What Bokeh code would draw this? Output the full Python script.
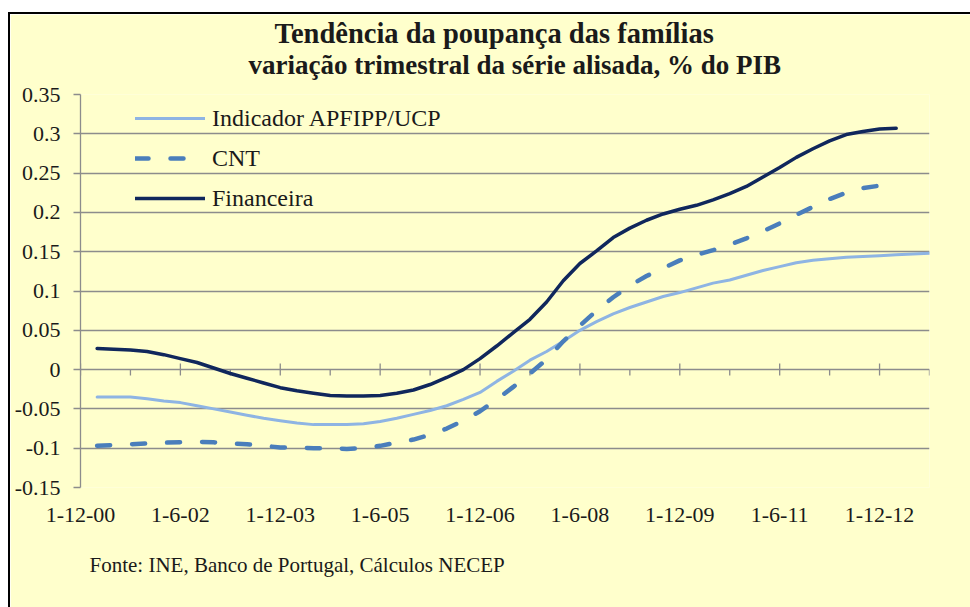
from bokeh.plotting import figure
from bokeh.models import Title, Legend, LegendItem, FixedTicker, Range1d, Spacer
from bokeh.layouts import row, column
from bokeh.embed import file_html
from bokeh.resources import INLINE

# quarter index: 0 = 1-12-00 (Dec 2000), one step per quarter
quarters_long = list(range(1, 52))
quarters = list(range(1, 50))

apfipp = [-0.035, -0.035, -0.035, -0.037, -0.040, -0.042, -0.046, -0.050, -0.054, -0.058,
          -0.062, -0.065, -0.068, -0.070, -0.070, -0.070, -0.069, -0.066, -0.062, -0.057,
          -0.052, -0.046, -0.038, -0.029, -0.015, -0.002, 0.012, 0.023, 0.036, 0.050,
          0.061, 0.071, 0.079, 0.086, 0.093, 0.098, 0.104, 0.110, 0.114, 0.120,
          0.126, 0.131, 0.136, 0.139, 0.141, 0.143, 0.144, 0.145, 0.146, 0.147, 0.148]

cnt = [-0.097, -0.096, -0.095, -0.094, -0.093, -0.0925, -0.092, -0.0925, -0.094, -0.095,
       -0.097, -0.099, -0.0995, -0.100, -0.100, -0.101, -0.100, -0.097, -0.093, -0.089,
       -0.083, -0.075, -0.065, -0.053, -0.038, -0.022, -0.005, 0.013, 0.036, 0.056,
       0.075, 0.092, 0.107, 0.119, 0.129, 0.139, 0.146, 0.152, 0.159, 0.167,
       0.176, 0.186, 0.197, 0.207, 0.217, 0.225, 0.231, 0.234, 0.235]

financeira = [0.027, 0.026, 0.025, 0.023, 0.019, 0.014, 0.009, 0.002, -0.005, -0.011,
              -0.017, -0.023, -0.027, -0.030, -0.033, -0.0335, -0.0335, -0.033, -0.030, -0.026,
              -0.019, -0.010, 0.000, 0.014, 0.030, 0.047, 0.064, 0.086, 0.113, 0.135,
              0.151, 0.168, 0.180, 0.190, 0.198, 0.204, 0.209, 0.216, 0.224, 0.233,
              0.245, 0.257, 0.270, 0.281, 0.291, 0.299, 0.303, 0.306, 0.307]

x_label_ticks = [0, 6, 12, 18, 24, 30, 36, 42, 48]
x_labels = ["1-12-00", "1-6-02", "1-12-03", "1-6-05", "1-12-06", "1-6-08", "1-12-09", "1-6-11", "1-12-12"]
x_minor_ticks = [3, 9, 15, 21, 27, 33, 39, 45, 51]

y_ticks = [-0.15, -0.1, -0.05, 0, 0.05, 0.1, 0.15, 0.2, 0.25, 0.3, 0.35]
y_labels = ["-0.15", "-0.1", "-0.05", "0", "0.05", "0.1", "0.15", "0.2", "0.25", "0.3", "0.35"]

title_line1 = "Tendência da poupança das famílias"
title_line2 = "variação trimestral da série alisada, % do PIB"
source_text = "Fonte: INE, Banco de Portugal, Cálculos NECEP"

BG = "#FFFFCC"
GRID = "#8C8C8C"
FONT = "Liberation Serif"
TXT = "#1A1A1A"

W, H = 960, 593
TOP, BOTTOM = 80, 120
p = figure(width=W, height=H, output_backend="svg", toolbar_location=None,
           x_range=Range1d(0, 51), y_range=Range1d(-0.15, 0.35),
           min_border_left=70, min_border_right=41, min_border_top=TOP, min_border_bottom=BOTTOM,
           background_fill_color=BG, border_fill_color=BG, outline_line_color=None)

# y axis
p.yaxis.ticker = FixedTicker(ticks=y_ticks)
p.yaxis.major_label_overrides = dict(zip(y_ticks, y_labels))
p.yaxis.axis_line_color = GRID
p.yaxis.axis_line_width = 1.3
p.yaxis.major_tick_line_color = GRID
p.yaxis.major_tick_line_width = 1.3
p.yaxis.major_tick_out = 7
p.yaxis.major_tick_in = 0
p.yaxis.minor_tick_line_color = None
p.yaxis.major_label_standoff = 13
p.yaxis.major_label_text_font = FONT
p.yaxis.major_label_text_font_size = "22px"
p.yaxis.major_label_text_color = TXT

# x axis (labels only, at the bottom)
p.xaxis.ticker = FixedTicker(ticks=x_label_ticks)
p.xaxis.major_label_overrides = dict(zip(x_label_ticks, x_labels))
p.xaxis.axis_line_color = None
p.xaxis.major_tick_line_color = None
p.xaxis.minor_tick_line_color = None
p.xaxis.major_label_standoff = 14
p.xaxis.major_label_text_font = FONT
p.xaxis.major_label_text_font_size = "22px"
p.xaxis.major_label_text_color = TXT

p.xgrid.grid_line_color = None
p.ygrid.ticker = FixedTicker(ticks=y_ticks)
p.ygrid.grid_line_color = GRID
p.ygrid.grid_line_width = 1.3

# tick marks on the zero line (category axis crossing at 0)
px = (0.35 - (-0.15)) / (H - TOP - BOTTOM)
p.segment(x0=x_label_ticks, x1=x_label_ticks, y0=[-6 * px] * len(x_label_ticks), y1=[6 * px] * len(x_label_ticks),
          line_color=GRID, line_width=1.3)
p.segment(x0=x_minor_ticks, x1=x_minor_ticks, y0=[-6 * px] * len(x_minor_ticks), y1=[0] * len(x_minor_ticks),
          line_color=GRID, line_width=1.3)

r1 = p.line(quarters_long, apfipp, line_color="#8EB4E3", line_width=3, line_join="round", line_cap="round")
r2 = p.line(quarters, cnt, line_color="#4A7EBB", line_width=4.5, line_dash="13 22", line_cap="round", line_join="round")
r3 = p.line(quarters, financeira, line_color="#10275C", line_width=3.5, line_join="round", line_cap="round")

legend = Legend(items=[LegendItem(label="Indicador APFIPP/UCP", renderers=[r1]),
                       LegendItem(label="CNT", renderers=[r2]),
                       LegendItem(label="Financeira", renderers=[r3])],
                location=(55, 274), glyph_width=70, glyph_height=30, label_height=30,
                spacing=10, padding=0, margin=0, label_standoff=7,
                background_fill_alpha=0, border_line_color=None,
                label_text_font=FONT, label_text_font_size="24px", label_text_color=TXT)
p.add_layout(legend)

t2 = Title(text=title_line2, align="left", offset=168,
           text_font=FONT, text_font_size="27px", text_font_style="bold", text_color=TXT, standoff=29)
p.add_layout(t2, "above")
t1 = Title(text=title_line1, align="left", offset=194,
           text_font=FONT, text_font_size="28.5px", text_font_style="bold", text_color=TXT, standoff=-30)
p.add_layout(t1, "above")

src = Title(text=source_text, align="left", offset=9, vertical_align="top",
            text_font=FONT, text_font_size="21px", text_font_style="normal", text_color=TXT, standoff=56)
p.add_layout(src, "below")

# white page strip and black chart-border lines around the figure
left_white = Spacer(width=8, height=607)
top_white = Spacer(width=962, height=12)
top_black = Spacer(width=962, height=2, styles={"background-color": "#000000"})
left_black = Spacer(width=2, height=593, styles={"background-color": "#000000"})
layout = row(left_white, column(top_white, top_black, row(left_black, p)))

open("out.html", "w").write(file_html(layout, INLINE))
